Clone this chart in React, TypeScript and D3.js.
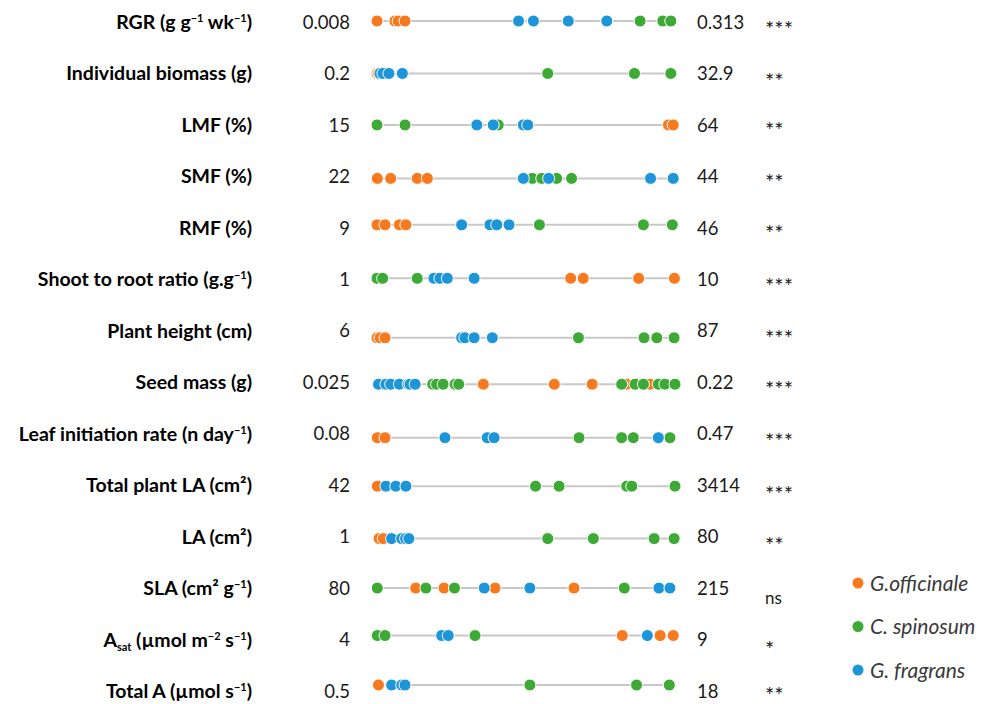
import React from 'react';
import * as d3 from 'd3';

// label parts: [text, kind] where kind '' normal, 'sup', 'sub'
type Part = [string, string];

const traitLabels: Part[][] = [
  [['RGR (g g', ''], ['−1', 'sup'], [' wk', ''], ['−1', 'sup'], [')', '']],
  [['Individual biomass (g)', '']],
  [['LMF (%)', '']],
  [['SMF (%)', '']],
  [['RMF (%)', '']],
  [['Shoot to root ratio (g.g', ''], ['−1', 'sup'], [')', '']],
  [['Plant height (cm)', '']],
  [['Seed mass (g)', '']],
  [['Leaf initiation rate (n day', ''], ['−1', 'sup'], [')', '']],
  [['Total plant LA (cm²)', '']],
  [['LA (cm²)', '']],
  [['SLA (cm² g', ''], ['−1', 'sup'], [')', '']],
  [['A', ''], ['sat', 'sub'], [' (µmol m', ''], ['−2', 'sup'], [' s', ''], ['−1', 'sup'], [')', '']],
  [['Total A (µmol s', ''], ['−1', 'sup'], [')', '']],
];

const minLabels = ['0.008', '0.2', '15', '22', '9', '1', '6', '0.025', '0.08', '42', '1', '80', '4', '0.5'];
const maxLabels = ['0.313', '32.9', '64', '44', '46', '10', '87', '0.22', '0.47', '3414', '80', '215', '9', '18'];
const significance = ['***', '**', '**', '**', '**', '***', '***', '***', '***', '***', '**', 'ns', '*', '**'];

// relative position of each species value between the trait min (0) and max (1)
const officinale = [
  [0, 0.06, 0.071, 0.094],
  [0, 0.005],
  [0.978, 0.994],
  [0.001, 0.046, 0.135, 0.169],
  [0, 0.027, 0.075, 0.097],
  [0.65, 0.692, 0.878, 0.998],
  [0, 0.01, 0.027],
  [0.357, 0.595, 0.722, 0.838, 0.916],
  [0.001, 0.027],
  [0.001],
  [0.007, 0.021],
  [0.13, 0.225, 0.396, 0.661],
  [0.823, 0.95, 0.994],
  [0.005],
];
const spinosum = [
  [0.883, 0.959, 0.986],
  [0.573, 0.864, 0.986],
  [0, 0.094, 0.407],
  [0.521, 0.553, 0.603, 0.653],
  [0.545, 0.894, 0.991],
  [0, 0.019, 0.135],
  [0.676, 0.896, 0.939, 0.997],
  [0.187, 0.2, 0.222, 0.262, 0.274, 0.821, 0.866, 0.894, 0.944, 0.966, 1],
  [0.678, 0.821, 0.86, 0.983],
  [0.532, 0.611, 0.838, 0.855, 1],
  [0.573, 0.726, 0.93, 0.997],
  [0.001, 0.164, 0.26, 0.83],
  [0.001, 0.027, 0.329],
  [0.513, 0.871, 0.981],
];
const fragrans = [
  [0.475, 0.525, 0.642, 0.771],
  [0.01, 0.02, 0.04, 0.085],
  [0.335, 0.39, 0.491, 0.506],
  [0.491, 0.576, 0.918, 0.994],
  [0.284, 0.379, 0.402, 0.443],
  [0.191, 0.211, 0.236, 0.326],
  [0.284, 0.295, 0.326, 0.387],
  [0.005, 0.03, 0.046, 0.075, 0.105, 0.111, 0.128],
  [0.228, 0.37, 0.393, 0.944],
  [0.03, 0.063, 0.097],
  [0.049, 0.083, 0.096, 0.107],
  [0.36, 0.513, 0.946, 0.983],
  [0.217, 0.239, 0.907],
  [0.049, 0.083, 0.094],
];

const speciesNames = ['G.officinale', 'C. spinosum', 'G. fragrans'];
const speciesColors = ['#F9791F', '#3DAA36', '#1C96D8'];
const speciesData = [officinale, spinosum, fragrans];

// small vertical offsets of the dot rows / significance marks relative to the text rows (layout only)
const dotNudge = [-1, 0, 0, 2, -3, -1, 7, 2, 4, 1, 2, 0, -4, -6];
const sigNudge = [3, 3, 1, 2, 1, 3, 3, 3, 3, 5, 4, 12, 5, 0];

const W = 989;
const H = 704;
const FONT = 'Lato, "Open Sans", sans-serif';

export default function App() {
  const x = d3.scaleLinear().domain([0, 1]).range([377, 675]);
  const y = d3.scalePoint<number>().domain(d3.range(traitLabels.length)).range([22, 691]);

  return (
    <svg width={W} height={H} style={{ position: 'absolute', left: 0, top: 0, background: '#fff' }}>
      <rect width={W} height={H} fill="#fff" />
      {traitLabels.map((parts, i) => {
        const yy = y(i)!;
        const yd = yy + dotNudge[i];
        const isNs = significance[i] === 'ns';
        const sigSize = isNs ? 17 : 22;
        const sigBase = yy + sigNudge[i] + (isNs ? 0.26 : 0.55) * sigSize;
        return (
          <g key={i}>
            <text x={252} y={yy} dy="0.36em" textAnchor="end" fontFamily={FONT} fontWeight="bold" fontSize={19.5} fill="#000">
              {parts.map(([t, k], j) => (
                <tspan
                  key={j}
                  fontSize={k ? 11 : 19.5}
                  baselineShift={k === 'sup' ? '7' : k === 'sub' ? '-4' : undefined}
                >
                  {t}
                </tspan>
              ))}
            </text>
            <text x={350} y={yy} dy="0.36em" textAnchor="end" fontFamily={FONT} fontSize={18.5} fill="#1a1a1a">
              {minLabels[i]}
            </text>
            <text x={697} y={yy} dy="0.36em" fontFamily={FONT} fontSize={18.5} fill="#1a1a1a">
              {maxLabels[i]}
            </text>
            <text x={765} y={sigBase} fontFamily={FONT} fontSize={sigSize} fill="#1a1a1a">
              {significance[i]}
            </text>
            <line x1={x(0)} x2={x(1)} y1={yd} y2={yd} stroke="#c8c8c8" strokeWidth={2} />
            {speciesData.map((sp, s) =>
              sp[i].map((v, k) => (
                <circle key={`${s}-${k}`} cx={x(v)} cy={yd} r={6} fill={speciesColors[s]} stroke="#fff" strokeWidth={1} />
              ))
            )}
          </g>
        );
      })}
      {speciesNames.map((name, s) => {
        const ly = d3.scaleLinear().domain([0, 2]).range([583, 670])(s);
        return (
          <g key={name}>
            <circle cx={858} cy={ly} r={5.5} fill={speciesColors[s]} />
            <text x={870} y={ly} dy="0.36em" fontFamily={FONT} fontStyle="italic" fontSize={21} fill="#3a3a3a">
              {name}
            </text>
          </g>
        );
      })}
    </svg>
  );
}
